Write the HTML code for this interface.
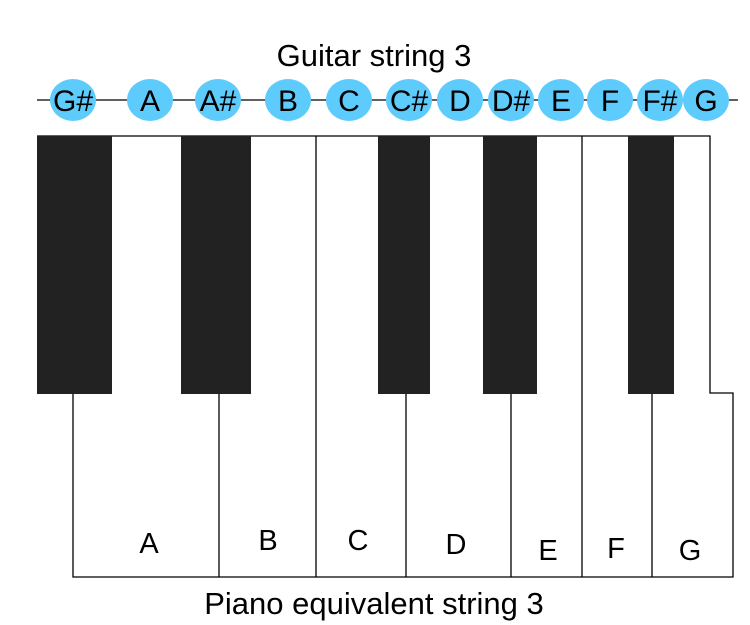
<!DOCTYPE html>
<html><head><meta charset="utf-8"><style>body{margin:0;background:#fff}svg{display:block}</style></head><body>
<svg width="750" height="625" viewBox="0 0 750 625" xmlns="http://www.w3.org/2000/svg" font-family="Liberation Sans, sans-serif">
<text x="374" y="66" font-size="31" text-anchor="middle">Guitar string 3</text>
<line x1="37" y1="100" x2="738" y2="100" stroke="#000" stroke-width="1.3"/>
<g fill="#5ecbfd">
<ellipse cx="73" cy="100" rx="23" ry="21"/><ellipse cx="150" cy="100" rx="23" ry="21"/><ellipse cx="218" cy="100" rx="23" ry="21"/><ellipse cx="288" cy="100" rx="23" ry="21"/><ellipse cx="349" cy="100" rx="23" ry="21"/><ellipse cx="409" cy="100" rx="23" ry="21"/><ellipse cx="460" cy="100" rx="23" ry="21"/><ellipse cx="511" cy="100" rx="23" ry="21"/><ellipse cx="561" cy="100" rx="23" ry="21"/><ellipse cx="610" cy="100" rx="23" ry="21"/><ellipse cx="660" cy="100" rx="23" ry="21"/><ellipse cx="706" cy="100" rx="23" ry="21"/>
</g>
<g font-size="30" text-anchor="middle">
<text x="73" y="111">G#</text><text x="150" y="111">A</text><text x="218" y="111">A#</text><text x="288" y="111">B</text><text x="349" y="111">C</text><text x="409" y="111">C#</text><text x="460" y="111">D</text><text x="511" y="111">D#</text><text x="561" y="111">E</text><text x="610" y="111">F</text><text x="660" y="111">F#</text><text x="706" y="111">G</text>
</g>
<g fill="none" stroke="#000" stroke-width="1.3">
<path d="M37 136 H710 V393 H733 V577 H73 V393"/>
<line x1="316" y1="136" x2="316" y2="577"/>
<line x1="582" y1="136" x2="582" y2="577"/>
<line x1="219" y1="393" x2="219" y2="577"/>
<line x1="406" y1="393" x2="406" y2="577"/>
<line x1="511" y1="393" x2="511" y2="577"/>
<line x1="652" y1="393" x2="652" y2="577"/>
</g>
<g fill="#222">
<rect x="37" y="136" width="75" height="258"/><rect x="181" y="136" width="70" height="258"/><rect x="378" y="136" width="52" height="258"/><rect x="483" y="136" width="54" height="258"/><rect x="628" y="136" width="46" height="258"/>
</g>
<g font-size="29" text-anchor="middle">
<text x="149" y="553">A</text><text x="268" y="550">B</text><text x="358" y="550">C</text><text x="456" y="554">D</text><text x="548" y="560">E</text><text x="616" y="558">F</text><text x="690" y="560">G</text>
</g>
<text x="374" y="614" font-size="31" text-anchor="middle">Piano equivalent string 3</text>
</svg>
</body></html>
